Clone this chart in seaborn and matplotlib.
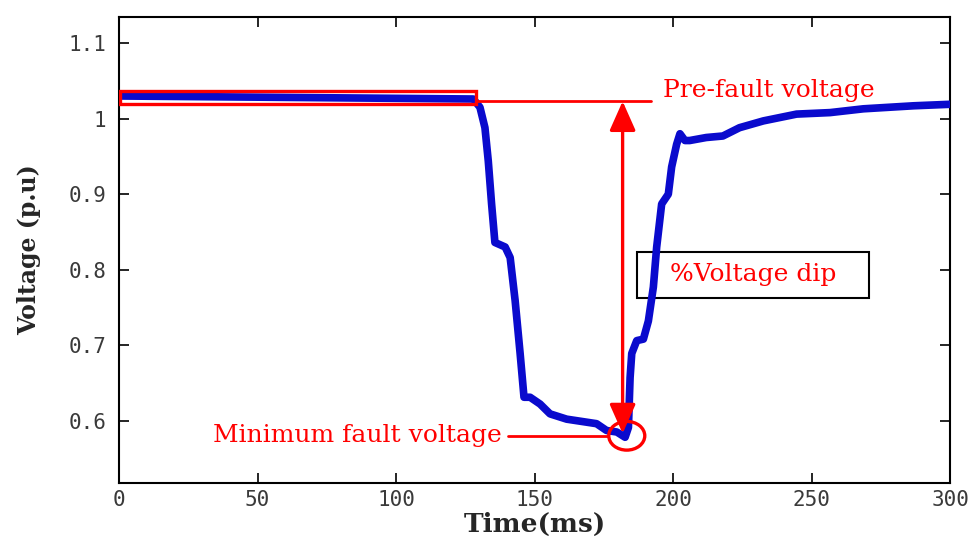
import matplotlib
matplotlib.use("Agg")
import matplotlib.pyplot as plt
from matplotlib.patches import Rectangle, Ellipse
import pandas as pd
import seaborn as sns

# Bus voltage during a fault (p.u.) against time (ms)
time_ms = [0, 127.9, 130.3, 132.1, 133.3, 134.5, 135.7, 139.4, 141.2, 143.0,
           144.8, 146.2, 148.4, 152.0, 155.6, 161.6, 168.8, 172.4, 176.0, 179.7,
           182.7, 183.9, 184.5, 185.1, 186.9, 189.3, 191.1, 192.9, 194.1, 195.9,
           198.3, 199.5, 201.3, 202.5, 204.3, 206.0, 212.0, 218.0, 224.0, 232.6,
           244.6, 256.7, 268.7, 286.8, 300.0]
voltage_pu = [1.030, 1.026, 1.015, 0.988, 0.944, 0.887, 0.836, 0.830, 0.816, 0.759,
              0.689, 0.631, 0.631, 0.622, 0.609, 0.602, 0.598, 0.596, 0.587, 0.585,
              0.578, 0.591, 0.657, 0.689, 0.706, 0.708, 0.732, 0.777, 0.830, 0.887,
              0.900, 0.936, 0.966, 0.980, 0.971, 0.971, 0.975, 0.977, 0.988, 0.997,
              1.006, 1.008, 1.013, 1.017, 1.019]

x_ticks = [0, 50, 100, 150, 200, 250, 300]
y_ticks = [0.6, 0.7, 0.8, 0.9, 1.0, 1.1]
y_tick_labels = ["0.6", "0.7", "0.8", "0.9", "1", "1.1"]

pre_fault_level = 1.023
min_fault_level = 0.580
dip_time = 181.8

sns.set_style("white")
plt.rcParams["font.family"] = ["DejaVu Serif"]

df = pd.DataFrame({"Time(ms)": time_ms, "Voltage": voltage_pu})

fig = plt.figure(figsize=(9.78, 5.44), dpi=100)
ax = fig.add_axes([0.1217, 0.1129, 0.8497, 0.8564])

sns.lineplot(data=df, x="Time(ms)", y="Voltage", ax=ax, sort=False,
             estimator=None, color="#0a0acd", linewidth=5.5, zorder=3)

ax.set_xlim(0, 300)
ax.set_ylim(0.518, 1.135)
ax.set_xticks(x_ticks)
ax.set_yticks(y_ticks)
ax.set_yticklabels(y_tick_labels)

mono = {"family": ["DejaVu Sans Mono"], "size": 15, "color": "#3a3a3a"}
for lab in ax.get_xticklabels() + ax.get_yticklabels():
    lab.set_fontfamily(mono["family"])
    lab.set_fontsize(mono["size"])
    lab.set_color(mono["color"])

ax.tick_params(direction="in", length=7, width=1.2, color="black",
               top=True, right=True, bottom=True, left=True)
ax.tick_params(axis="x", pad=5)
ax.tick_params(axis="y", pad=9)
for s in ax.spines.values():
    s.set_visible(True)
    s.set_color("black")
    s.set_linewidth(1.5)

ax.set_xlabel("Time(ms)", fontsize=19, fontweight="bold", labelpad=2)
ax.set_ylabel("Voltage (p.u)", fontsize=17, fontweight="bold", labelpad=20)

red = "#ff0000"

# Pre-fault window and its reference line
ax.add_patch(Rectangle((0.3, 1.0195), 128.6, 0.0175, fill=False,
                       edgecolor=red, linewidth=2.4, zorder=4))
ax.plot([128.9, 192.0], [pre_fault_level, pre_fault_level], color=red,
        linewidth=2.0, zorder=4)
ax.text(196.4, 1.037, "Pre-fault voltage", color=red, fontsize=18,
        ha="left", va="center", zorder=6)

# Voltage dip arrow
ax.annotate("", xy=(dip_time, 0.583), xytext=(dip_time, pre_fault_level),
            arrowprops=dict(arrowstyle="<|-|>,head_length=0.9,head_width=0.4",
                            mutation_scale=20, color=red, linewidth=2.4,
                            shrinkA=0, shrinkB=0),
            zorder=5)

# Label box for the dip
ax.add_patch(Rectangle((186.9, 0.763), 83.9, 0.061, facecolor="white",
                       edgecolor="black", linewidth=1.5, zorder=2))
ax.text(228.8, 0.7935, "%Voltage dip", color=red, fontsize=18,
        ha="center", va="center", zorder=6)

# Minimum fault voltage marker
ax.add_patch(Ellipse((183.3, min_fault_level), 13.0, 0.038, fill=False,
                     edgecolor=red, linewidth=2.4, zorder=5))
ax.plot([140.4, 176.6], [min_fault_level, min_fault_level], color=red,
        linewidth=2.0, zorder=4)
ax.text(138.3, min_fault_level, "Minimum fault voltage", color=red,
        fontsize=18, ha="right", va="center", zorder=6)

fig.savefig("out.png", dpi=100, facecolor="white")
